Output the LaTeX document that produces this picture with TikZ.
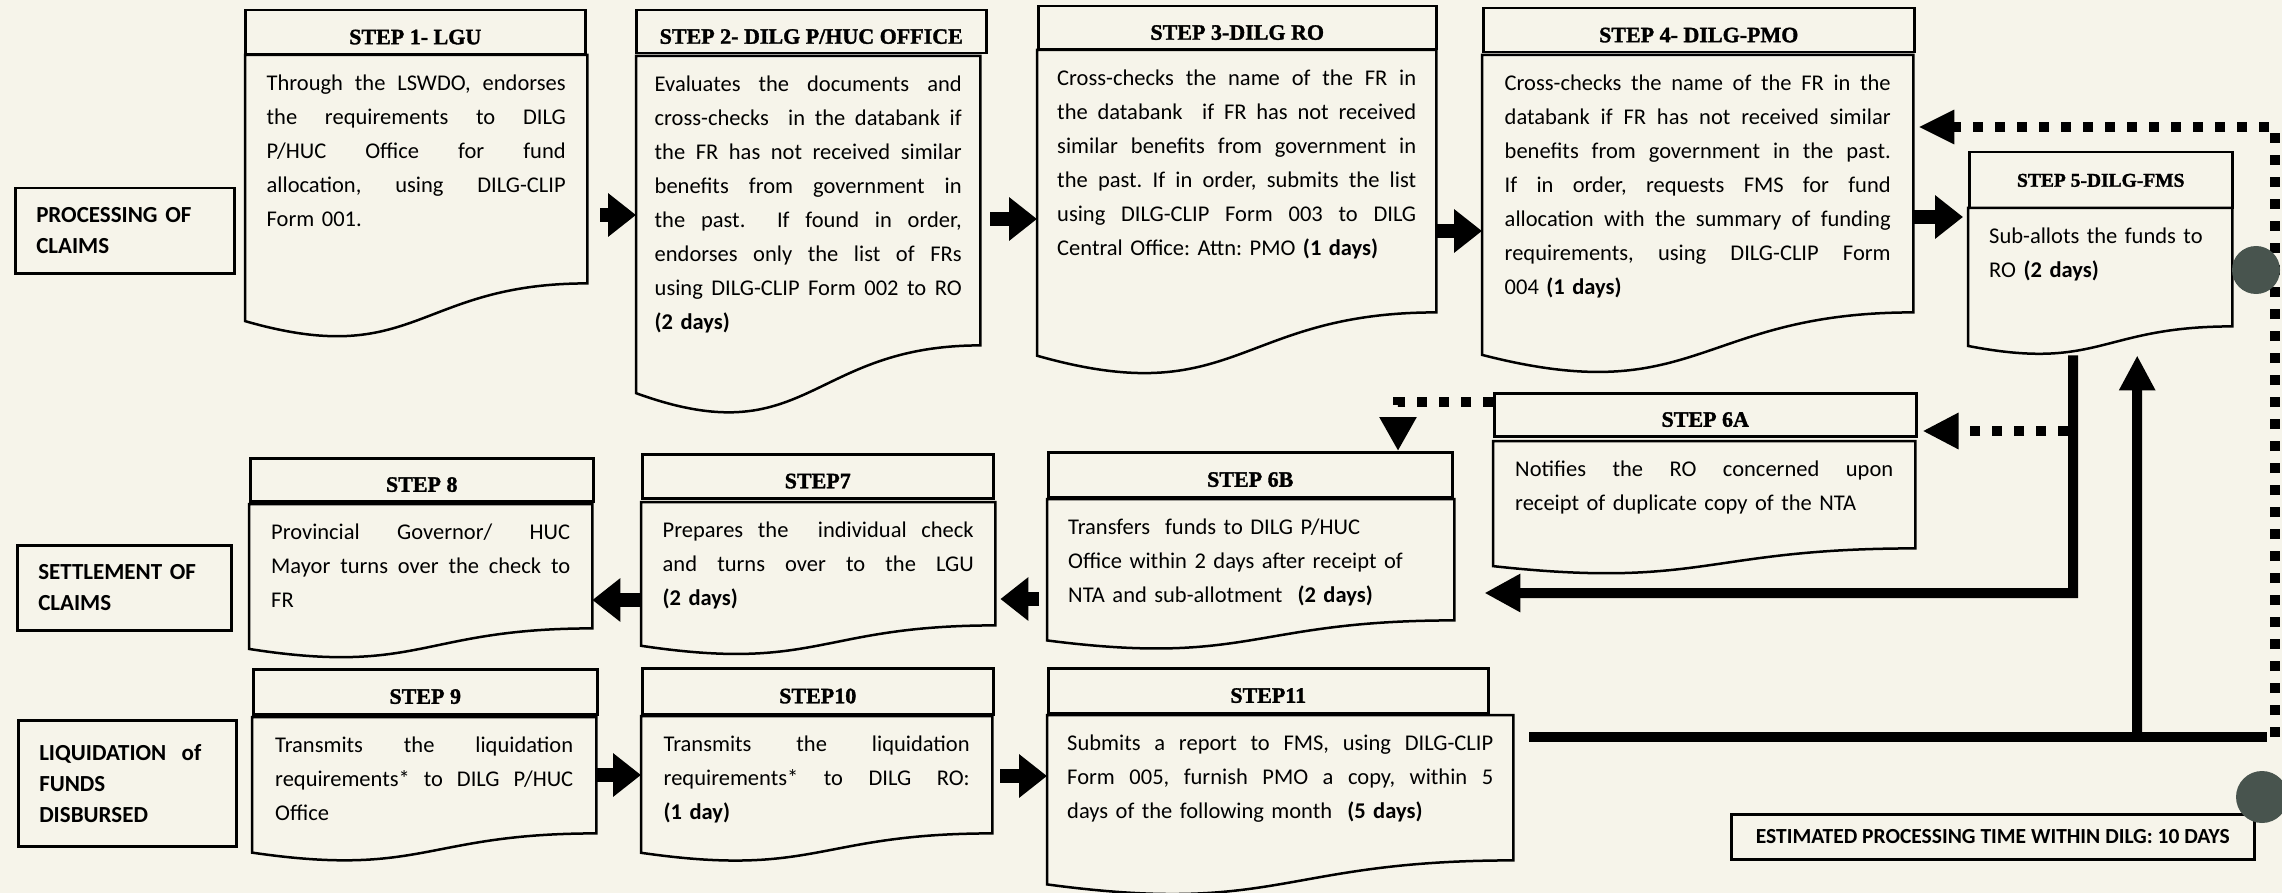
\documentclass[tikz,border=0pt]{standalone}
\usepackage{fontspec}
\setmainfont{Carlito}
\newfontfamily\headfont[BoldFeatures={FakeBold=1.5}]{Liberation Serif}
\usetikzlibrary{positioning,calc,arrows.meta}
\frenchspacing

\definecolor{paper}{RGB}{246,244,234}
\definecolor{hole}{RGB}{72,84,78}

\tikzstyle{head}=[draw,line width=2.5pt,anchor=north west,inner sep=0pt,text height=24pt,text depth=0pt,font=\headfont\bfseries\fontsize{22}{26}\selectfont]
\tikzstyle{docbox}=[anchor=north west,inner sep=0pt]
\tikzstyle{rim}=[draw,line width=2.5pt]
\tikzstyle{txt}=[inner sep=0pt,align=left,font=\fontsize{22.5}{34}\selectfont]
\tikzstyle{lane}=[draw,line width=2.5pt,anchor=north west,inner xsep=21pt,inner ysep=0pt,align=left,font=\bfseries\fontsize{23}{31}\selectfont]
\tikzstyle{push}=[line width=14pt,-{Triangle[length=28pt,width=42pt]}]
\tikzstyle{fat}=[line width=10pt]
\tikzstyle{dots}=[line width=10pt,dash pattern=on 10pt off 12pt]
\newcommand{\jl}[1]{\makebox[\hsize][s]{\spaceskip=0pt\xspaceskip=0pt\relax #1}}
\newcommand{\docwave}[1]{%
  \draw[rim] let \p1=(#1.north), \p2=(#1.south) in
    (#1.north west) -- (#1.north east) -- (#1.south east)
    .. controls (#1.south) and ($(#1.south)+(0pt,{0.381*(\y2-(\y1))})$)
    .. ($(#1.south west)+(0pt,{0.165*(\y2-(\y1))})$) -- cycle;}

\begin{document}
\begin{tikzpicture}[x=1pt, y=-1pt]
    \useasboundingbox (0,0) rectangle (2282,893);
    \fill[paper] (0,0) rectangle (2282,893);

    % headers of the steps
    \foreach \name/\hx/\hy/\hw/\hh/\title in {h1/244/9/340/44/{STEP 1- LGU}, h2/635/9/350/43/{STEP 2- DILG P/HUC OFFICE},
        h3/1037/5/398/43/{STEP 3-DILG RO}, h4/1482/7/431/44/{STEP 4- DILG-PMO}, h6a/1493/392/422/43/{STEP 6A},
        h6b/1047/451/404/45/{STEP 6B}, h7/641/453/351/44/{STEP7}, h8/249/457/343/43/{STEP 8},
        h9/252/668/344/45/{STEP 9}, h10/641/667/351/46/{STEP10}, h11/1047/667/440/45/{STEP11}}
        \node[head, minimum width=\hw pt, minimum height=\hh pt] (\name) at (\hx,\hy) {\title};
    \node[head, minimum width=263pt, minimum height=56pt, text height=13pt, font=\headfont\bfseries\fontsize{19.5}{24}\selectfont] (h5) at (1968,151) {STEP 5-DILG-FMS};

    % document boxes under the headers
    \foreach \name/\bx/\by/\bw/\bh in {b1/245/55/342/228, b2/636/56/344/289, b3/1037/50/399/262, b4/1482/55/431/257,
        b5/1968/208/264/118, b6a/1493/441/422/107, b6b/1047/499/407/121, b7/641/502/354/123,
        b8/249/504/343/124, b9/252/717/344/116, b10/641/716/351/117, b11/1047/715/466/145}
    {
        \node[docbox, minimum width=\bw pt, minimum height=\bh pt] (\name) at (\bx,\by) {};
        \docwave{\name}
    }

    % texts of the steps
    \node[txt, text width=299pt, below=20pt of b1.north] (t1) {\jl{Through the LSWDO, endorses}\\ \jl{the requirements to DILG}\\
        \jl{P/HUC Office for fund}\\ \jl{allocation, using DILG-CLIP}\\ Form 001.};
    \node[txt, text width=307pt, below=20pt of b2.north] (t2) {\jl{Evaluates the documents and}\\ \jl{cross-checks \ in the databank if}\\
        \jl{the FR has not received similar}\\ \jl{benefits from government in}\\ \jl{the past. \ If found in order,}\\
        \jl{endorses only the list of FRs}\\ \jl{using DILG-CLIP Form 002 to RO}\\ \textbf{(2 days)}};
    \node[txt, text width=359pt, below=20pt of b3.north] (t3) {\jl{Cross-checks the name of the FR in}\\ \jl{the databank \ if FR has not received}\\
        \jl{similar benefits from government in}\\ \jl{the past. If in order, submits the list}\\ \jl{using DILG-CLIP Form 003 to DILG}\\
        Central Office: Attn: PMO \textbf{(1 days)}};
    \node[txt, text width=386pt, below=20pt of b4.north] (t4) {\jl{Cross-checks the name of the FR in the}\\ \jl{databank if FR has not received similar}\\
        \jl{benefits from government in the past.}\\ \jl{If in order, requests FMS for fund}\\ \jl{allocation with the summary of funding}\\
        \jl{requirements, using DILG-CLIP Form}\\ 004 \textbf{(1 days)}};
    \node[txt, text width=222pt, below=20pt of b5.north] (t5) {Sub-allots the funds to\\ RO \textbf{(2 days)}};
    \node[txt, text width=378pt, below=20pt of b6a.north] (t6a) {\jl{Notifies the RO concerned upon}\\ receipt of duplicate copy of the NTA};
    \node[txt, text width=365pt, below=20pt of b6b.north] (t6b) {Transfers \ funds to DILG P/HUC\\ Office within 2 days after receipt of\\
        NTA and sub-allotment \ \textbf{(2 days)}};
    \node[txt, text width=311pt, below=20pt of b7.north] (t7) {\jl{Prepares the \ individual check}\\ \jl{and turns over to the LGU}\\ \textbf{(2 days)}};
    \node[txt, text width=299pt, below=20pt of b8.north] (t8) {\jl{Provincial Governor/ HUC}\\ \jl{Mayor turns over the check to}\\ FR};
    \node[txt, text width=298pt, below=20pt of b9.north] (t9) {\jl{Transmits the liquidation}\\ \jl{requirements* to DILG P/HUC}\\ Office};
    \node[txt, text width=306pt, below=20pt of b10.north] (t10) {\jl{Transmits the liquidation}\\ \jl{requirements* to DILG RO:}\\ \textbf{(1 day)}};
    \node[txt, text width=426pt, below=20pt of b11.north] (t11) {\jl{Submits a report to FMS, using DILG-CLIP}\\ \jl{Form 005, furnish PMO a copy, within 5}\\
        days of the following month \ \textbf{(5 days)}};

    % stages on the left
    \node[lane, text width=177pt, minimum height=85pt] (p1) at (14,187) {PROCESSING OF\\ CLAIMS};
    \node[lane, text width=172pt, minimum height=85pt] (p2) at (16,544) {SETTLEMENT OF\\ CLAIMS};
    \node[lane, text width=176pt, minimum height=126pt] (p3) at (17,719) {LIQUIDATION\ \ of\\ FUNDS\\ DISBURSED};
    \node[lane, minimum width=523pt, minimum height=45pt, inner xsep=0pt, align=center, font=\bfseries\fontsize{21.5}{24}\selectfont] (est) at (1730,813) {ESTIMATED PROCESSING TIME WITHIN DILG: 10 DAYS};

    % arrows from step to step
    \draw[push, shorten <=13pt] (b1.east |- 0,215) -- (b2.west |- 0,215);
    \draw[push, shorten <=10pt] (b2.east |- 0,219) -- (b3.west |- 0,219);
    \draw[push] (b3.east |- 0,231) -- (b4.west |- 0,231);
    \draw[push, shorten >=5pt] (b4.east |- 0,217) -- (b5.west |- 0,217);
    \draw[push, shorten <=8pt, shorten >=5pt] (b6b.west |- 0,599) -- (b7.east |- 0,599);
    \draw[push] (b7.west |- 0,600) -- (b8.east |- 0,600);
    \draw[push] (b9.east |- 0,775) -- (b10.west |- 0,775);
    \draw[push, shorten <=8pt] (b10.east |- 0,776) -- (b11.west |- 0,776);

    % loops on the right
    \coordinate (drop) at (2073,593);
    \coordinate (tap) at (2137,737);
    \coordinate (jn) at (2275,737);
    \draw[fat, -{Triangle[length=36pt,width=36pt]}, shorten >=30pt] ([xshift=-27pt,yshift=-29pt]b5.south) -- (drop) -- (b6b.east |- drop);
    \draw[fat, shorten <=16pt] (b11.east |- jn) -- ([xshift=-8pt]jn);
    \draw[fat, -{Triangle[length=35pt,width=34pt]}] (tap) -- ([xshift=37pt,yshift=-29pt]b5.south);
    \draw[dots, -{Triangle[length=36pt,width=32pt]}, shorten >=5pt] (jn) |- (b4.east |- 0,127);
    \draw[dots, -{Triangle[length=36pt,width=34pt]}, shorten <=5pt, shorten >=5pt] (drop |- 0,431) -- (h6a.east |- 0,431);
    \draw[dots, -{Triangle[length=34pt,width=35pt]}] (h6a.west |- 0,402) -| (1398,0 |- h6b.north);

    % punch holes
    \fill[hole] (2256,270) circle[radius=24pt];
    \fill[hole] (2262,797) circle[radius=26pt];
\end{tikzpicture}
\end{document}
